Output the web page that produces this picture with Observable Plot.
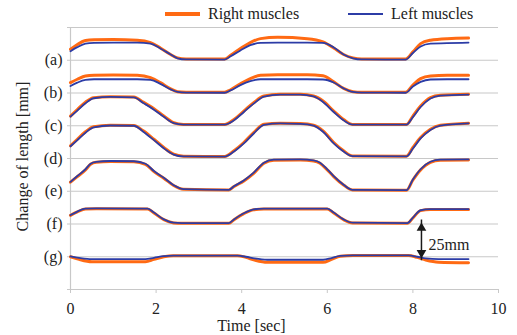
<!DOCTYPE html>
<html><head><meta charset="utf-8">
<script src="https://cdn.jsdelivr.net/npm/d3@7"></script>
<script src="https://cdn.jsdelivr.net/npm/@observablehq/plot@0.6"></script>
<style>
body{margin:0;background:#fff;font-family:"Liberation Serif","Times New Roman",serif;color:#222;}
#wrap{width:517px;height:335px;overflow:hidden;}
#legend{position:relative;height:24px;font-size:16px;}
.item{position:absolute;top:4px;height:20px;line-height:20px;display:flex;align-items:center;white-space:nowrap;}
.sw{display:inline-block;width:35px;margin-right:8px;}
</style></head><body>
<div id="wrap"><div id="legend"></div><div id="chart"></div></div>
<script>
// ---- data (mm change of length, relative to each trace's baseline) ----
const seriesNames = ["Right muscles", "Left muscles"];
const seriesColors = ["#ff6a13", "#2c3ca6"];
const rowLabels = ["(a)", "(b)", "(c)", "(d)", "(e)", "(f)", "(g)"];
const rowOffsets = [150, 125, 100, 75, 50, 25, 0];
const yTicks = [-25, 0, 25, 50, 75, 100, 125, 150, 175];
const xTicks = [0, 2, 4, 6, 8, 10];
const xTitle = "Time [sec]";
const yTitle = "Change of length [mm]";
const scaleLabel = "25mm";

const tAB = [0, 0.16, 0.35, 0.55, 1.0, 1.56, 1.87, 2.1, 2.34, 2.5, 2.7, 3.6, 3.74, 3.97, 4.2, 4.44, 4.84, 5.53, 5.9, 6.15, 6.38, 6.6, 6.8, 7.83, 8.0, 8.18, 8.41, 8.8, 9.3];
const aRight = [8.4, 12, 15, 15.6, 15.8, 15.3, 13.5, 9.4, 4.4, 1.8, 1.0, 0.9, 3.8, 8.9, 13.5, 16.5, 17.5, 16.5, 14, 9.4, 4.4, 1.8, 1.0, 1.0, 6.4, 12.7, 15.3, 16.5, 16.9];
const aLeft  = [6.9, 10, 12.7, 13.3, 13.5, 13.5, 12.7, 9, 4.4, 1.5, 0.6, 0.5, 3, 7.5, 11.5, 13.2, 13.5, 13.5, 13.2, 9.8, 4.4, 1.5, 0.6, 0.5, 5.5, 10.5, 12.7, 13, 13.5];
const bRight = [7.9, 10.5, 13, 13.6, 13.8, 13.6, 11.7, 7.9, 3.2, 1.0, 0.6, 0.5, 2.5, 7, 11, 13.5, 14, 14, 13.2, 8.5, 3.5, 0.9, 0.5, 0.5, 6, 11, 13, 13.5, 13.5];
const bLeft  = [5.3, 7.9, 10, 10.5, 10.5, 10.5, 10, 7, 2.8, 0.8, 0.3, 0.2, 2, 6, 9, 10.5, 10.5, 10.5, 10.3, 8, 3.5, 0.8, 0.3, 0.2, 5, 8.5, 10.3, 10.5, 10.5];

const tCD = [0, 0.16, 0.35, 0.54, 0.93, 1.48, 1.7, 1.95, 2.18, 2.41, 2.64, 3.6, 3.82, 4.05, 4.28, 4.52, 4.9, 5.37, 5.68, 5.9, 6.15, 6.38, 6.59, 7.85, 8.0, 8.18, 8.41, 8.64, 9.3];
const cRight = [7.4, 12.4, 18, 21.4, 22.1, 21.9, 18, 13, 7.4, 2.3, 1.0, 1.0, 4.8, 11.2, 17.6, 22.7, 24, 24, 22.7, 18.9, 11.2, 4.8, 1.0, 1.0, 7.4, 15, 21.4, 23.2, 24];
const cLeft  = [7.0, 11.6, 17.2, 21, 22, 21.7, 17.4, 12.3, 6.8, 2.0, 0.9, 0.9, 4.2, 10.5, 16.9, 22.2, 23.8, 23.8, 22.4, 18.2, 10.5, 4.2, 0.9, 0.9, 6.6, 14.3, 20.8, 23, 23.8];
const dRight = [9.7, 14.7, 20.4, 24.2, 25.4, 25.2, 21.1, 14.7, 8.4, 3.3, 1.8, 1.5, 5.9, 12.2, 19.8, 26.2, 27, 26.7, 25.4, 21.1, 12.2, 5.9, 2.0, 1.8, 8.4, 16, 22.4, 25.4, 27];
const dLeft  = [9.3, 14, 19.7, 23.8, 25.2, 25, 20.5, 14, 7.8, 3.0, 1.6, 1.4, 5.3, 11.5, 19.1, 25.7, 26.8, 26.5, 25.1, 20.4, 11.5, 5.3, 1.8, 1.6, 7.6, 15.3, 21.8, 25.1, 26.8];

const tE = [0, 0.16, 0.35, 0.47, 0.6, 0.93, 1.48, 1.75, 1.95, 2.18, 2.41, 2.64, 3.7, 3.82, 4.05, 4.28, 4.52, 4.75, 5.37, 5.68, 5.83, 6.0, 6.15, 6.38, 6.59, 7.85, 8.0, 8.18, 8.41, 8.64, 9.3];
const eRight = [6.9, 11.2, 16.3, 20.6, 22.1, 22.7, 22.5, 20.6, 15, 10, 4.4, 1.5, 1.0, 3.6, 7.9, 13.7, 21.4, 23.7, 23.9, 23.1, 21.4, 16.3, 11.2, 4.8, 1.0, 0.7, 8.6, 16.3, 22.1, 23.7, 23.9];
const eLeft  = [7.2, 11.6, 16.8, 21, 22.5, 23.1, 22.9, 21, 15.4, 10.3, 4.6, 1.6, 1.1, 3.8, 8.2, 14.2, 21.8, 24.1, 24.3, 23.5, 21.8, 16.7, 11.5, 5, 1.1, 0.8, 8.9, 16.8, 22.5, 24.1, 24.3];

const tF = [0, 0.16, 0.35, 0.6, 1.8, 1.95, 2.18, 2.41, 2.6, 3.7, 3.82, 4.05, 4.28, 4.52, 6.0, 6.15, 6.38, 6.59, 7.87, 8.0, 8.18, 8.41, 9.3];
const fRight = [6.6, 9.2, 11.5, 11.6, 11.5, 8.4, 3.3, 0.8, 0.5, 0.5, 3.3, 7.9, 10.9, 11.5, 11.5, 8.4, 3.3, 0.8, 0.5, 4.6, 10.2, 11, 11];
const fLeft  = [6.8, 9.5, 11.8, 11.9, 11.8, 8.7, 3.5, 1.0, 0.7, 0.7, 3.5, 8.2, 11.2, 11.8, 11.8, 8.7, 3.5, 1.0, 0.7, 4.9, 10.5, 11.3, 11.3];

const tG = [0, 0.2, 0.5, 1.75, 1.95, 2.18, 2.4, 3.9, 4.1, 4.3, 4.6, 5.9, 6.1, 6.3, 6.6, 7.9, 8.1, 8.3, 8.6, 9.3];
const gRight = [0, -2, -3.8, -3.8, -2, 0, 0.8, 0.8, -0.5, -2.5, -4.2, -4.2, -2, 0.3, 1, 1, -0.5, -2.5, -4.2, -4.6];
const gLeft  = [0.3, -0.8, -1.8, -1.8, -0.8, 0.4, 0.8, 0.8, 0, -1.3, -2.3, -2.3, -1, 0.6, 1, 1, 0, -1.3, -1.8, -1.8];

// scale-bar annotation spans one baseline step, drawn between rows (f) and (g)
const scaleBarTime = [8.2];
const scaleBarFrom = [0];
const scaleBarTo = [25];

// ---- build table ----
const rows = [
  [tAB, aRight, aLeft], [tAB, bRight, bLeft], [tCD, cRight, cLeft], [tCD, dRight, dLeft],
  [tE, eRight, eLeft], [tF, fRight, fLeft], [tG, gRight, gLeft]
];
const data = [];
rows.forEach(([ts, r, l], i) => {
  ts.forEach((t, j) => {
    data.push({t, v: rowOffsets[i] + r[j], series: seriesNames[0], key: rowLabels[i] + "R"});
    data.push({t, v: rowOffsets[i] + l[j], series: seriesNames[1], key: rowLabels[i] + "L"});
  });
});
const labelFor = new Map(rowOffsets.map((o, i) => [o, rowLabels[i]]));
const bar = scaleBarTime.map((t, i) => ({t, y1: scaleBarFrom[i], y2: scaleBarTo[i], label: scaleLabel}));

// ---- legend ----
const legend = document.getElementById("legend");
const legendX = [165, 348];
seriesNames.forEach((name, i) => {
  const it = document.createElement("div");
  it.className = "item";
  it.style.left = legendX[i] + "px";
  const sw = document.createElement("span");
  sw.className = "sw";
  sw.style.height = (i === 0 ? 4 : 2) + "px";
  sw.style.background = seriesColors[i];
  it.appendChild(sw);
  it.appendChild(document.createTextNode(name));
  legend.appendChild(it);
});

// ---- chart ----
const grid = "#c8c8c8";
const ink = "#1a1a1a";
const chart = Plot.plot({
  width: 517, height: 311,
  marginLeft: 70, marginRight: 19, marginTop: 3, marginBottom: 46,
  style: {fontFamily: "'Liberation Serif', 'Times New Roman', serif", fontSize: "16px", color: "#222", background: "#fff", overflow: "visible"},
  x: {domain: [0, 10]},
  y: {domain: [-25, 175]},
  marks: [
    Plot.gridY(yTicks, {stroke: grid, strokeOpacity: 1, strokeWidth: 1.2}),
    Plot.ruleX([0], {stroke: grid, strokeWidth: 1.2}),
    Plot.axisY(yTicks, {tickFormat: d => labelFor.get(d) ?? "", tickSize: 3, tickPadding: 5, stroke: grid, label: null}),
    Plot.axisX(xTicks, {tickSize: 4, tickPadding: 9, stroke: grid, label: null}),
    Plot.line(data, {filter: d => d.series === seriesNames[0], x: "t", y: "v", z: "key", stroke: seriesColors[0], strokeWidth: 3, curve: "monotone-x"}),
    Plot.line(data, {filter: d => d.series === seriesNames[1], x: "t", y: "v", z: "key", stroke: seriesColors[1], strokeWidth: 1.8, curve: "monotone-x"}),
    // scale bar: shaft + filled triangular heads
    Plot.ruleX(bar, {x: "t", y1: "y1", y2: "y2", stroke: ink, strokeWidth: 1.5, insetTop: 4, insetBottom: 4}),
    Plot.dot(bar, {x: "t", y: "y2", symbol: "triangle", r: 3.6, fill: ink, stroke: null, dy: 4}),
    Plot.dot(bar, {x: "t", y: "y1", symbol: "triangle", r: 3.6, fill: ink, stroke: null, rotate: 180, dy: -4}),
    Plot.text(bar, {x: "t", y: d => (d.y1 + d.y2) / 2, text: "label", textAnchor: "start", dx: 7, dy: 4, fontSize: 16, fill: "#222"}),
    Plot.text([yTitle], {frameAnchor: "left", textAnchor: "middle", lineAnchor: "middle", rotate: -90, dx: -48, dy: -2, fontSize: 16, fill: "#222"}),
    Plot.text([xTitle], {frameAnchor: "bottom", textAnchor: "middle", lineAnchor: "middle", dy: 36, dx: -33, fontSize: 16, fill: "#222"})
  ]
});
document.getElementById("chart").appendChild(chart);
</script>
</body></html>
